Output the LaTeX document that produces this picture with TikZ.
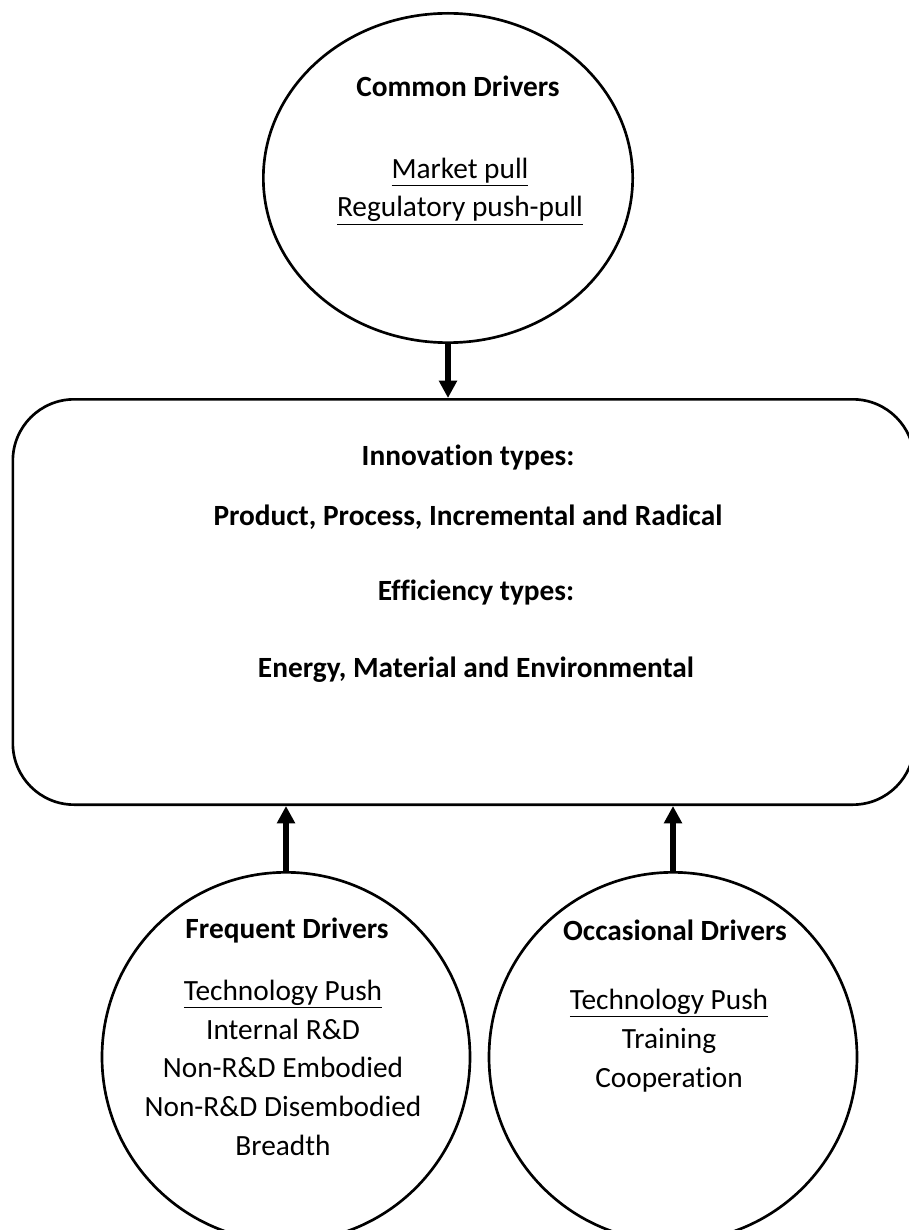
\documentclass[tikz,border=0pt]{standalone}
\usepackage{fontspec}
\setmainfont{Carlito}[Ligatures=NoCommon]
\usetikzlibrary{shapes, arrows.meta, positioning, calc}

\begin{document}
\begin{tikzpicture}[x=0.75pt,y=-0.75pt,
	every node/.style={font=\fontsize{22}{29}\selectfont},
	driver/.style={draw, ellipse, line width=2pt, inner sep=0pt},
	types/.style={draw, rectangle, rounded corners=46pt, line width=2pt,
		minimum width=676pt, minimum height=304pt},
	label/.style={anchor=base, align=center, inner sep=0pt},
	title/.style={label, font=\fontsize{22}{29}\selectfont\bfseries},
	flow/.style={-{Triangle[length=13pt,width=13pt]}, line width=4.3pt}]
	\useasboundingbox (0,0) rectangle (908,1230);

	% the three groups of drivers and the box they point at
	\node[driver, minimum width=277pt, minimum height=247pt] (common) at (448,178) {};
	\node[types] (box) at (463.5,602) {};
	\node[driver, minimum width=276pt, minimum height=277pt] (frequent) at (286,1057) {};
	\node[driver, minimum width=276pt, minimum height=277pt] (occasional) at (673,1057) {};

	% common drivers (base = last line)
	\node[title] (commontitle) at (458,97) {Common Drivers};
	\node[label] (commonlist) at (460,217) {\underline{Market pull}\\\underline{Regulatory push-pull}};

	% innovation and efficiency types
	\node[title] (innov) at (468,465) {Innovation types:};
	\node[title] (innovlist) at (468,525) {Product, Process, Incremental and Radical};
	\node[title] (effic) at (476,600) {Efficiency types:};
	\node[title] (efficlist) at (476,677) {Energy, Material and Environmental};

	% frequent drivers
	\node[title] (freqtitle) at (287,938) {Frequent Drivers};
	\node[label] (freqlist) at (283,1155) {\underline{Technology Push}\\Internal R\&D\\Non-R\&D Embodied\\Non-R\&D Disembodied\\Breadth};

	% occasional drivers
	\node[title] (occtitle) at (675,940) {Occasional Drivers};
	\node[label] (occlist) at (669,1087) {\underline{Technology Push}\\Training\\Cooperation};

	\draw[flow] (common.south) -- (common.south |- box.north);
	\draw[flow] (frequent.north) -- (frequent.north |- box.south);
	\draw[flow] (occasional.north) -- (occasional.north |- box.south);
\end{tikzpicture}
\end{document}
